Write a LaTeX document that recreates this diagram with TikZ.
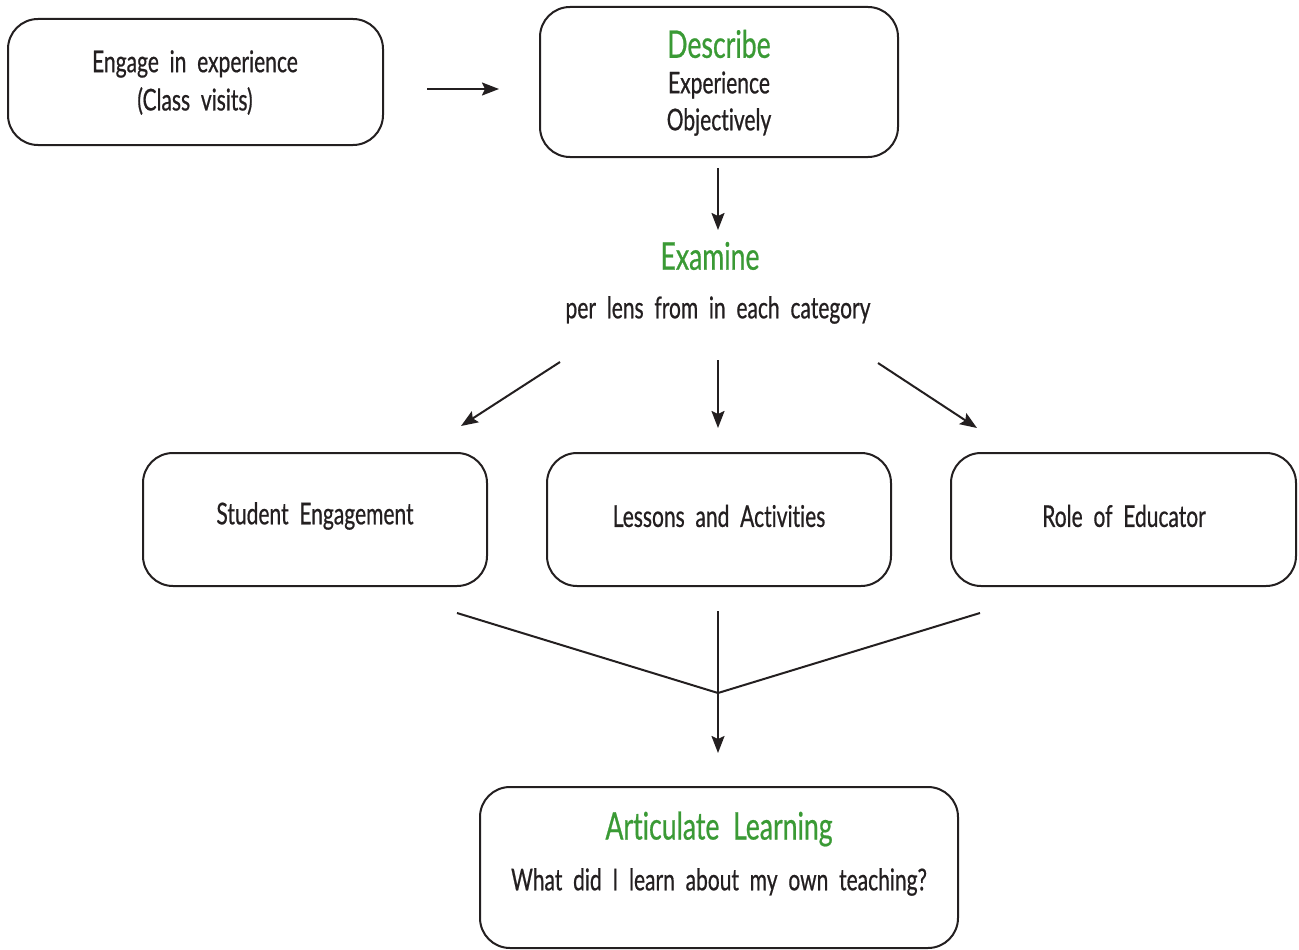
\documentclass[tikz,border=0pt]{standalone}
\usepackage{fontspec}
\setmainfont{Lato}[FakeStretch=0.7, FakeBold=0.6, Ligatures=NoCommon]
\usetikzlibrary{arrows.meta}
\definecolor{ink}{HTML}{231F20}
\definecolor{titlegreen}{HTML}{3A9A35}
\tikzset{
  box/.style={draw=ink, line width=2pt, rounded corners=30pt},
  conn/.style={draw=ink, line width=2pt},
  arr/.style={conn, -{Stealth[length=17pt, width=13pt, inset=3pt]}},
  txt/.style={text=ink, font=\fontsize{30}{37}\selectfont, inner sep=0pt, align=center},
  ttl/.style={text=titlegreen, font=\fontsize{38}{40}\selectfont, inner sep=0pt, align=center},
}
\begin{document}
\begin{tikzpicture}[x=1pt,y=-1pt]
\useasboundingbox (0,0) rectangle (1299,950);
% boxes
\draw[box] (8,19) rectangle (383,145);
\draw[box] (540,7) rectangle (898,157);
\draw[box] (143,453) rectangle (487,586);
\draw[box] (547,453) rectangle (891,586);
\draw[box] (951,453) rectangle (1296,586);
\draw[box] (480,787) rectangle (958,948);
% texts
\node[txt] (engage) at (195,64) {Engage\ \ in\ \ experience};
\node[txt] (visits) at (195,101) {(Class\ \ visits)};
\node[ttl] (describe) at (719,44) {Describe};
\node[txt] (exp) at (719,85) {Experience};
\node[txt] (obj) at (719,122) {Objectively};
\node[ttl] (examine) at (710,256) {Examine};
\node[txt] (lens) at (718,310) {per\ \ lens\ \ from\ \ in\ \ each\ \ category};
\node[txt] (student) at (315,516) {Student\ \ Engagement};
\node[txt] (lessons) at (719,516) {Lessons\ \ and\ \ Activities};
\node[txt] (role) at (1124,516) {Role\ \ of\ \ Educator};
\node[ttl] (artic) at (719,829) {Articulate\ \ Learning};
\node[txt] (what) at (719,882) {What\ \ did\ \ I\ \ learn\ \ about\ \ my\ \ own\ \ teaching?};
% connector coordinates
\coordinate (a1) at (427,89);  \coordinate (a2) at (499,89);
\coordinate (b1) at (718,168); \coordinate (b2) at (718,230);
\coordinate (c1) at (560,362); \coordinate (c2) at (461,426);
\coordinate (d1) at (718,360); \coordinate (d2) at (718,428);
\coordinate (e1) at (878,363); \coordinate (e2) at (977,428);
\coordinate (f1) at (457,613); \coordinate (f2) at (980,613);
\coordinate (f3) at (718,611); \coordinate (m) at (718,693);
\coordinate (g) at (718,753);
\draw[arr] (a1) -- (a2);
\draw[arr] (b1) -- (b2);
\draw[arr] (c1) -- (c2);
\draw[arr] (d1) -- (d2);
\draw[arr] (e1) -- (e2);
\draw[conn] (f1) -- (m) -- (f2);
\draw[conn] (f3) -- (m);
\draw[arr] (m) -- (g);
\end{tikzpicture}
\end{document}
